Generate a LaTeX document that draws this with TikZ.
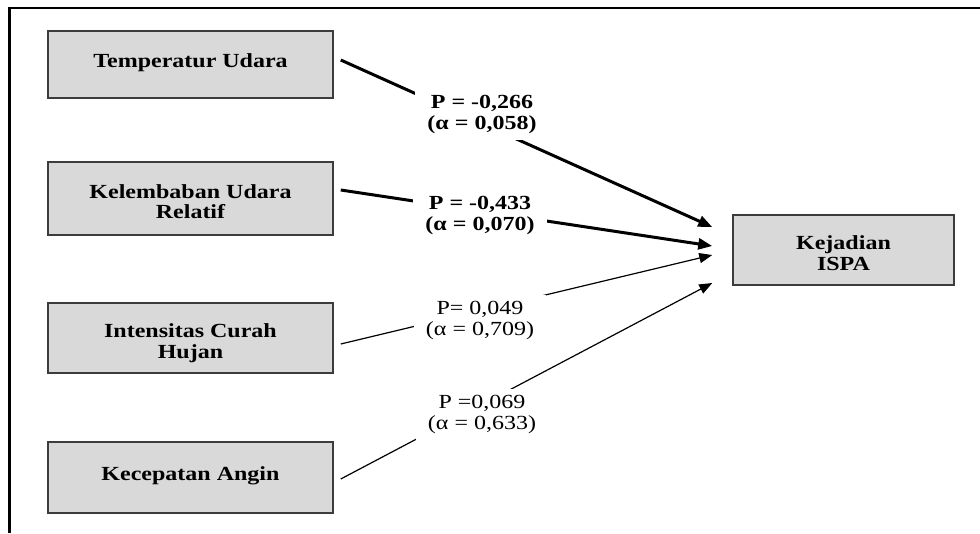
\documentclass[tikz,border=0pt]{standalone}
\usepackage{fontspec}
\setmainfont{Liberation Serif}[FakeStretch=1.2]
\usetikzlibrary{arrows.meta,calc}
\definecolor{boxfill}{HTML}{D9D9D9}
\definecolor{boxline}{HTML}{3C3C3C}
\newcommand{\mytwolines}[2]{\raisebox{-11pt}[0pt][0pt]{\begin{tabular}{@{}c@{}}#1\\#2\end{tabular}}}
\begin{document}
\begin{tikzpicture}[x=1pt,y=-1pt,
  varbox/.style={draw=boxline,line width=1.5pt,fill=boxfill,minimum width=285pt,
    align=center,font=\fontsize{20}{20.5}\selectfont\bfseries,inner sep=0pt},
  boldlab/.style={fill=white,align=center,inner xsep=12pt,inner ysep=6pt,
    font=\fontsize{20}{21}\selectfont\bfseries},
  plainlab/.style={fill=white,align=center,inner xsep=12pt,inner ysep=6pt,
    font=\fontsize{20}{21}\selectfont},
  strong/.style={line width=3pt,-{Triangle[length=14pt,width=11pt]}},
  weak/.style={line width=1.2pt,-{Triangle[length=13pt,width=10pt]}},
  frameline/.style={line width=2.4pt,black}]
\useasboundingbox (0,0) rectangle (980,533);
% frame
\coordinate (fbl) at (9.5,533);
\coordinate (ftl) at (9.5,8);
\coordinate (ftr) at (980,8);
\draw[frameline] (fbl) -- (ftl) -- (ftr);
% boxes
\node[varbox,minimum height=67pt] (tu) at (190.5,64.5) {\raisebox{7pt}{Temperatur Udara}};
\node[varbox,minimum height=73pt] (ku) at (190.5,198.5) {\mytwolines{Kelembaban Udara}{Relatif}};
\node[varbox,minimum height=70pt] (ic) at (190.5,338) {\mytwolines{Intensitas Curah}{Hujan}};
\node[varbox,minimum height=71pt] (ka) at (190.5,477.5) {\raisebox{7pt}{Kecepatan Angin}};
\node[varbox,minimum width=221pt,minimum height=70pt] (isp) at (843.5,250) {\mytwolines{Kejadian}{ISPA}};
% arrow tips
\coordinate (t1) at ($(isp.west)+(-20,-23)$);
\coordinate (t2) at ($(isp.west)+(-20,-4)$);
\coordinate (t3) at ($(isp.west)+(-20,5)$);
\coordinate (t4) at ($(isp.west)+(-20,33)$);
% connectors
\draw[strong] ($(tu.east)+(7,-4.5)$) -- (t1);
\draw[strong] ($(ku.east)+(7,-8.5)$) -- (t2);
\draw[weak] ($(ic.east)+(7,6)$) -- (t3);
\draw[weak] ($(ka.east)+(7,1.5)$) -- (t4);
% labels
\node[boldlab] (l1) at (482,114.5) {P = -0,266\\(α = 0,058)};
\node[boldlab] (l2) at (480,215) {P = -0,433\\(α = 0,070)};
\node[plainlab] (l3) at (480,320) {P= 0,049\\(α = 0,709)};
\node[plainlab] (l4) at (482,414.5) {P =0,069\\(α = 0,633)};
\end{tikzpicture}
\end{document}
